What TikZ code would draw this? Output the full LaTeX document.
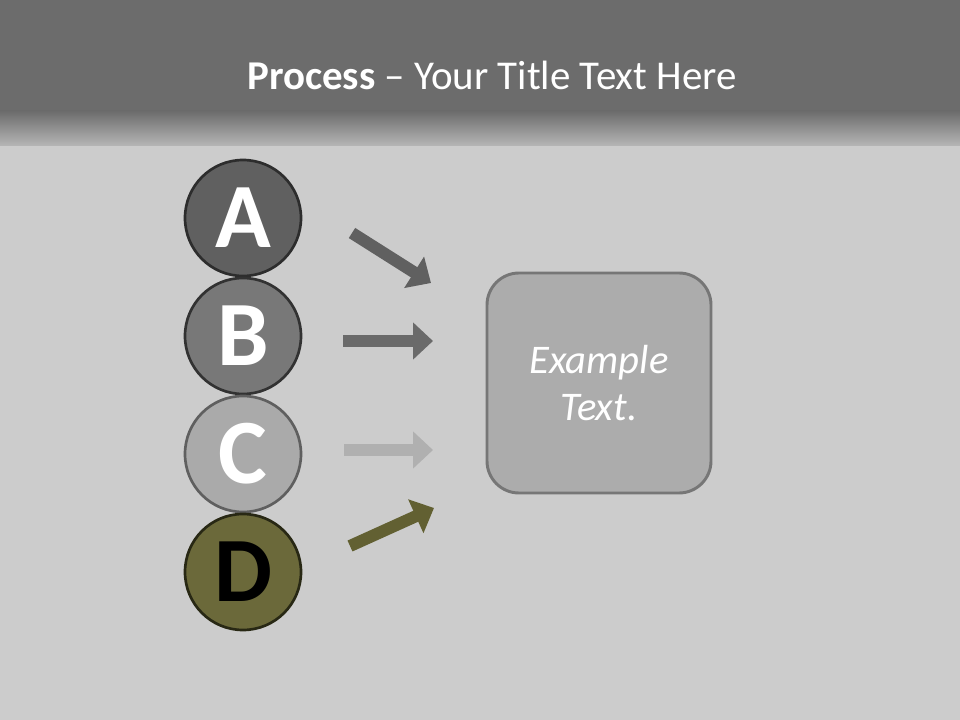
\documentclass[tikz,border=0pt]{standalone}
\usepackage{tikz}
\usepackage{fontspec}
\setmainfont{Carlito}
\usetikzlibrary{arrows.meta}

\definecolor{bandGray}{RGB}{108,108,108}
\definecolor{wallGray}{RGB}{204,204,204}
\definecolor{wallLight}{RGB}{182,182,182}
\definecolor{olive}{RGB}{107,105,58}
\definecolor{oliveArrow}{RGB}{98,96,50}

\tikzset{
  letterball/.style={circle,minimum size=87pt,inner sep=0pt,line width=2pt,font=\fontsize{69}{69}\selectfont\bfseries},
  fatarrow/.style={line width=9pt,-{Triangle[width=27pt,length=15pt]}}
}

\begin{document}
\begin{tikzpicture}[x=0.75pt,y=0.75pt,yscale=-1,xscale=1]
\useasboundingbox (0,0) rectangle (960,720);

%Shape: Background
\fill [wallGray] (0,0) rectangle (960,720) ;
\fill [bandGray] (0,0) rectangle (960,112) ;
\shade [top color=bandGray,bottom color=wallLight] (0,111) rectangle (960,146) ;

% Text Node
\node (title) at (492,75) [text=white,font=\fontsize{30.7}{31}\selectfont] {\textbf{Process} -- Your Title Text Here};

%Shape: Circles
\node (ballA) at (243,218) [letterball,draw={rgb,255:red,45;green,45;blue,45},fill={rgb,255:red,96;green,96;blue,96},text=white] {A};
\node (ballB) at (243,336) [letterball,draw={rgb,255:red,50;green,50;blue,50},fill={rgb,255:red,120;green,120;blue,120},text=white] {B};
\node (ballC) at (243,454) [letterball,draw={rgb,255:red,95;green,95;blue,95},fill={rgb,255:red,170;green,170;blue,170},text=white] {C};
\node (ballD) at (243,572) [letterball,draw={rgb,255:red,40;green,40;blue,20},fill=olive,text=black] {D};

%Shape: Rounded Rect
\node (exbox) at (599,383) [draw={rgb,255:red,118;green,118;blue,118},line width=2.2pt,fill={rgb,255:red,172;green,172;blue,172},rounded corners=24pt,minimum width=168pt,minimum height=165pt,text=white,align=center,font=\fontsize{30.5}{35}\selectfont\itshape] {Example\\Text.};

%Straight Lines: arrows
\coordinate (tailA) at (352,233) ;
\coordinate (tipA) at (431,283) ;
\coordinate (tailB) at (343,341) ;
\coordinate (tipB) at (433,341) ;
\coordinate (tailC) at (344,450) ;
\coordinate (tipC) at (433,450) ;
\coordinate (tailD) at (350,546) ;
\coordinate (tipD) at (434,508) ;

\draw [fatarrow,color={rgb,255:red,96;green,96;blue,96}] (tailA) -- (tipA) ;
\draw [fatarrow,color={rgb,255:red,106;green,106;blue,106}] (tailB) -- (tipB) ;
\draw [fatarrow,color={rgb,255:red,176;green,176;blue,176}] (tailC) -- (tipC) ;
\draw [fatarrow,color=oliveArrow] (tailD) -- (tipD) ;

\end{tikzpicture}
\end{document}
